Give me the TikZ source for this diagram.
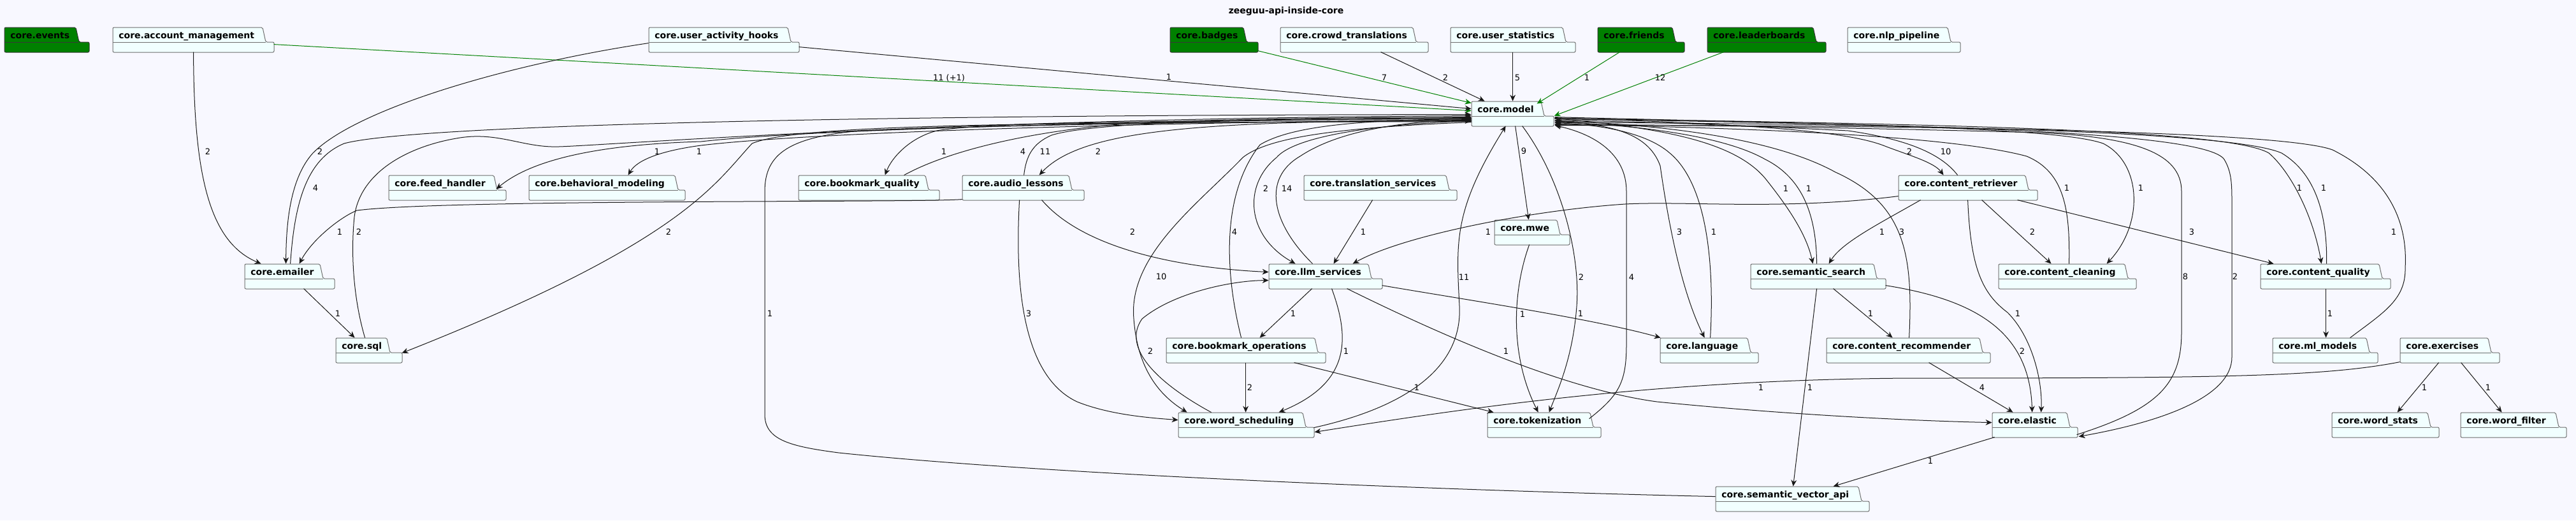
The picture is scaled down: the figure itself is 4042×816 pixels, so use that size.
\documentclass[tikz,border=0pt]{standalone}
\usepackage{fontspec}
\setmainfont{DejaVu Sans}
\usetikzlibrary{arrows.meta,calc,fit}
\definecolor{bgwhite}{RGB}{248,248,255}
\definecolor{pkgfill}{RGB}{241,255,255}
\definecolor{pkgline}{RGB}{110,110,110}
\definecolor{darkline}{RGB}{24,24,24}
\definecolor{umlgreen}{RGB}{0,128,0}

% package: #1 style, #2 name, #3 text, #4 x, #5 y, #6 tab right, #7 body right
\newcommand{\umlpkg}[7][pkgbox]{%
  \filldraw[#1] (#4,#5+39) -- (#4,#5) -- (#6,#5) -- (#6+5,#5+23)
    -- (#7,#5+23) -- (#7,#5+39) -- cycle;
  \draw[#1,fill=none] (#4,#5+23) -- (#6+5,#5+23);
  \node[pkgtext] (#2-txt) at (#4+9,#5+17) {#3};
  \path (#4,#5) coordinate (#2-nw) (#7,#5+39) coordinate (#2-se);
  \node[fit=(#2-nw)(#2-se),inner sep=0pt] (#2) {};
}

\begin{document}
\begin{tikzpicture}[x=0.5pt,y=-0.5pt,
    pkgbox/.style={fill=pkgfill,draw=pkgline,line width=0.5pt,rounded corners=1pt},
    greenbox/.style={fill=umlgreen,draw=pkgline!50!black,line width=0.5pt,rounded corners=1pt},
    pkgtext/.style={font=\bfseries\fontsize{7}{8}\selectfont,anchor=base west,inner sep=0pt},
    dep/.style={draw=darkline,line width=0.5pt,-{Stealth[length=5pt,width=4.4pt,inset=1.6pt]}},
    greendep/.style={dep,draw=umlgreen},
    lbl/.style={font=\fontsize{6.5}{7}\selectfont,inner sep=0pt}]
  \useasboundingbox (0,0) rectangle (4042,816);
  \fill[bgwhite] (0,0) rectangle (4042,816);
  \node[font=\bfseries\fontsize{7}{8}\selectfont] (title) at (2018,18) {zeeguu-api-inside-core};

  % packages
  \umlpkg[greenbox]{events}{core.events}{7}{43}{119}{140}
  \umlpkg{accmgmt}{core.account\_management}{177}{43}{412}{430}
  \umlpkg{useract}{core.user\_activity\_hooks}{1018}{43}{1236}{1254}
  \umlpkg[greenbox]{badges}{core.badges}{1836}{43}{1951}{1974}
  \umlpkg{crowd}{core.crowd\_translations}{2009}{43}{2217}{2241}
  \umlpkg{ustats}{core.user\_statistics}{2276}{43}{2452}{2472}
  \umlpkg[greenbox]{friends}{core.friends}{2507}{43}{2624}{2643}
  \umlpkg[greenbox]{leader}{core.leaderboards}{2679}{43}{2845}{2865}
  \umlpkg{nlp}{core.nlp\_pipeline}{2899}{43}{3056}{3076}
  \umlpkg{model}{core.model}{2309}{159}{2418}{2438}
  \umlpkg{feed}{core.feed\_handler}{610}{275}{775}{794}
  \umlpkg{behav}{core.behavioral\_modeling}{830}{275}{1059}{1075}
  \umlpkg{bmq}{core.bookmark\_quality}{1253}{275}{1452}{1474}
  \umlpkg{audio}{core.audio\_lessons}{1510}{275}{1677}{1701}
  \umlpkg{transl}{core.translation\_services}{2046}{275}{2269}{2286}
  \umlpkg{retr}{core.content\_retriever}{2979}{275}{3178}{3197}
  \umlpkg{mwe}{core.mwe}{2345}{345}{2443}{2463}
  \umlpkg{emailer}{core.emailer}{384}{414}{502}{525}
  \umlpkg{llm}{core.llm\_services}{1991}{414}{2147}{2169}
  \umlpkg{ssearch}{core.semantic\_search}{2747}{414}{2940}{2959}
  \umlpkg{clean}{core.content\_cleaning}{3136}{414}{3334}{3352}
  \umlpkg{cquality}{core.content\_quality}{3547}{414}{3733}{3751}
  \umlpkg{sql}{core.sql}{527}{530}{607}{631}
  \umlpkg{bmops}{core.bookmark\_operations}{1830}{530}{2063}{2080}
  \umlpkg{lang}{core.language}{2605}{530}{2742}{2759}
  \umlpkg{recomm}{core.content\_recommender}{2866}{530}{3106}{3123}
  \umlpkg{ml}{core.ml\_models}{3566}{530}{3713}{3731}
  \umlpkg{exercises}{core.exercises}{3766}{530}{3904}{3922}
  \umlpkg{wsched}{core.word\_scheduling}{1849}{647}{2044}{2062}
  \umlpkg{token}{core.tokenization}{2334}{647}{2495}{2512}
  \umlpkg{elastic}{core.elastic}{3126}{647}{3243}{3260}
  \umlpkg{wstats}{core.word\_stats}{3659}{647}{3809}{3827}
  \umlpkg{wfilter}{core.word\_filter}{3861}{647}{4010}{4027}
  \umlpkg{vector}{core.semantic\_vector\_api}{2692}{763}{2916}{2933}

  % top row into core.model
  \draw[greendep] ($(accmgmt.north west)+(253,27)$) -- ($(model.north west)+(0,15)$) node[lbl] (l1) at (1489,122) {11 (+1)};
  \draw[dep] ($(useract.north west)+(236,31)$) -- ($(model.north west)+(0,12)$) node[lbl] (l2) at (1834,121) {1};
  \draw[greendep] ($(badges.north west)+(138,37)$) -- ($(model.north west)+(0,3)$) node[lbl] (l3) at (2172,122) {7};
  \draw[dep] ($(crowd.north west)+(158,39)$) -- ($(model.north west)+(21,0)$) node[lbl] (l4) at (2268,122) {2};
  \draw[dep] ($(ustats.north west)+(98,39)$) -- ($(model.north west)+(65,0)$) node[lbl] (l5) at (2381,122) {5};
  \draw[greendep] ($(friends.north west)+(35,39)$) -- ($(model.north west)+(103,4)$) node[lbl] (l6) at (2490,122) {1};
  \draw[greendep] ($(leader.north west)+(26,39)$) -- ($(model.north west)+(130,23)$) node[lbl] (l7) at (2605,122) {12};

  % left bundle
  \draw[dep] ($(model.north west)+(0,27)$) .. controls (1700,190) and (1250,205) .. (1100,222)
    .. controls (960,226) and (840,245) .. ($(feed.north west)+(169,22)$) node[lbl] (l8) at (1031,238) {1};
  \draw[dep] ($(model.north west)+(0,29)$) .. controls (1700,193) and (1250,210) .. (1100,228)
    .. controls (1040,236) and (1000,250) .. ($(behav.north west)+(156,0)$) node[lbl] (l9) at (1097,238) {1};
  \draw[dep] ($(emailer.north west)+(72,0)$) .. controls (462,320) and (480,250) .. (540,225)
    .. controls (650,195) and (1400,180) .. ($(model.north west)+(0,21)$) node[lbl] (l10) at (495,295) {4};
  \draw[dep] ($(useract.north west)+(0,25)$) .. controls (800,100) and (560,170) .. (491,240)
    .. controls (455,280) and (449,350) .. ($(emailer.north west)+(65,0)$) node[lbl] (l11) at (502,238) {2};
  \draw[dep] ($(accmgmt.north west)+(127,39)$) .. controls (304,280) and (330,380) .. ($(emailer.north west)+(26,0)$) node[lbl] (l12) at (326,238) {2};
  \draw[dep] ($(audio.north west)+(0,38)$) .. controls (1450,318) and (700,312) .. (560,330)
    .. controls (535,340) and (490,375) .. ($(emailer.north west)+(86,0)$) node[lbl] (l13) at (533,364) {1};
  \draw[dep] ($(sql.north west)+(46,0)$) .. controls (555,470) and (550,400) .. (556,340)
    .. controls (565,270) and (640,230) .. (716,217) .. controls (780,205) and (820,232) .. (877,230)
    .. controls (950,228) and (1500,185) .. ($(model.north west)+(0,23)$) node[lbl] (l14) at (563,364) {2};
  \draw[dep] ($(emailer.north west)+(93,39)$) -- ($(sql.north west)+(30,0)$) node[lbl] (l15) at (530,492) {1};
  \draw[dep] ($(model.north west)+(0,32)$) .. controls (1600,192) and (1250,195) .. (1180,225)
    .. controls (1120,290) and (1070,380) .. ($(sql.north west)+(104,24)$) node[lbl] (l16) at (1049,364) {2};
  \draw[dep] ($(model.north west)+(0,27)$) .. controls (1900,190) and (1550,190) .. (1470,205)
    .. controls (1430,215) and (1400,245) .. ($(bmq.north west)+(136,0)$) node[lbl] (l17) at (1481,238) {1};
  \draw[dep] ($(bmq.north west)+(166,0)$) .. controls (1500,230) and (1650,200) .. (1800,192)
    .. controls (1950,186) and (2150,184) .. ($(model.north west)+(0,25)$) node[lbl] (l18) at (1605,238) {4};
  \draw[dep] ($(audio.north west)+(97,0)$) .. controls (1610,245) and (1620,225) .. (1650,212)
    .. controls (1720,190) and (2000,186) .. ($(model.north west)+(0,26)$) node[lbl] (l19) at (1640,238) {11};
  \draw[dep] ($(model.north west)+(0,30)$) .. controls (1900,190) and (1700,200) .. ($(audio.north west)+(121,0)$) node[lbl] (l20) at (1723,238) {2};

  % around core.llm_services
  \draw[dep] ($(audio.north west)+(125,39)$) .. controls (1700,390) and (1850,420) .. ($(llm.north west)+(0,13)$) node[lbl] (l21) at (1777,364) {2};
  \draw[dep] ($(audio.north west)+(90,39)$) .. controls (1592,450) and (1605,590) .. (1690,630)
    .. controls (1740,650) and (1800,655) .. ($(wsched.north west)+(0,12)$) node[lbl] (l22) at (1614,492) {3};
  \draw[dep] ($(model.north west)+(0,33)$) .. controls (2100,200) and (1990,215) .. (1950,247)
    .. controls (1880,320) and (1770,400) .. (1779,500)
    .. controls (1785,580) and (1820,620) .. ($(wsched.north west)+(14,0)$) node[lbl] (l23) at (1822,434) {10};
  \draw[dep] ($(bmops.north west)+(118,0)$) .. controls (1925,440) and (1912,310) .. (1977,227)
    .. controls (2030,195) and (2150,188) .. ($(model.north west)+(0,28)$) node[lbl] (l24) at (1937,364) {4};
  \draw[dep] ($(model.north west)+(0,31)$) .. controls (2150,195) and (2030,215) .. (2003,247)
    .. controls (1950,290) and (1955,370) .. ($(llm.north west)+(42,0)$) node[lbl] (l25) at (1986,296) {2};
  \draw[dep] ($(llm.north west)+(69,0)$) .. controls (1995,350) and (1980,280) .. (2040,245)
    .. controls (2100,205) and (2200,190) .. ($(model.north west)+(0,29)$) node[lbl] (l26) at (2019,296) {14};
  \draw[dep] ($(transl.north west)+(108,39)$) -- ($(llm.north west)+(102,0)$) node[lbl] (l27) at (2139,364) {1};
  \draw[dep] ($(retr.north west)+(0,33)$) .. controls (2800,330) and (2650,315) .. (2550,320)
    .. controls (2400,330) and (2200,370) .. ($(llm.north west)+(132,0)$) node[lbl] (l28) at (2335,364) {1};
  \draw[dep] ($(wsched.north west)+(52,0)$) .. controls (1815,600) and (1760,545) .. (1792,500)
    .. controls (1840,460) and (1930,440) .. ($(llm.north west)+(0,26)$) node[lbl] (l29) at (1805,551) {2};
  \draw[dep] ($(llm.north west)+(68,39)$) -- ($(bmops.north west)+(147,0)$) node[lbl] (l30) at (2029,492) {1};
  \draw[dep] ($(llm.north west)+(99,39)$) .. controls (2118,530) and (2120,600) .. ($(wsched.north west)+(158,0)$) node[lbl] (l31) at (2112,551) {1};
  \draw[dep] ($(llm.north west)+(178,34)$) .. controls (2300,470) and (2500,500) .. ($(lang.north west)+(1,0)$) node[lbl] (l32) at (2480,492) {1};
  \draw[dep] ($(llm.north west)+(123,39)$) .. controls (2250,520) and (2450,610) .. (2600,630)
    .. controls (2800,650) and (3000,660) .. ($(elastic.north west)+(0,16)$) node[lbl] (l33) at (2363,551) {1};
  \draw[dep] ($(bmops.north west)+(125,39)$) -- ($(wsched.north west)+(106,0)$) node[lbl] (l34) at (1961,608) {2};
  \draw[dep] ($(bmops.north west)+(201,39)$) -- ($(token.north west)+(10,0)$) node[lbl] (l35) at (2223,608) {1};
  \draw[dep] ($(wsched.north west)+(213,24)$) .. controls (2200,640) and (2295,580) .. (2290,480)
    .. controls (2285,380) and (2280,330) .. ($(model.north west)+(54,39)$) node[lbl] (l36) at (2297,435) {11};
  \draw[dep] ($(exercises.north west)+(0,38)$) .. controls (3650,590) and (3500,593) .. (3000,593)
    .. controls (2600,595) and (2300,640) .. ($(wsched.north west)+(214,31)$) node[lbl] (l37) at (2763,608) {1};

  % below core.model
  \draw[dep] ($(model.north west)+(69,39)$) -- ($(mwe.north west)+(54,0)$) node[lbl] (l38) at (2391,237) {9};
  \draw[dep] ($(mwe.north west)+(55,39)$) .. controls (2372,460) and (2370,560) .. ($(token.north west)+(80,0)$) node[lbl] (l39) at (2389,493) {1};
  \draw[dep] ($(model.north west)+(80,39)$) .. controls (2450,280) and (2480,400) .. (2474,480)
    .. controls (2468,560) and (2445,610) .. ($(token.north west)+(97,0)$) node[lbl] (l40) at (2481,435) {2};
  \draw[dep] ($(token.north west)+(160,10)$) .. controls (2540,620) and (2552,600) .. (2552,540) -- (2552,300)
    .. controls (2552,240) and (2500,210) .. ($(model.north west)+(131,38)$) node[lbl] (l41) at (2560,435) {4};

  % right bundle
  \draw[dep] ($(model.north west)+(131,31)$) .. controls (2520,195) and (2585,205) .. (2605,260)
    .. controls (2615,330) and (2635,450) .. ($(lang.north west)+(70,0)$) node[lbl] (l42) at (2635,364) {3};
  \draw[dep] ($(lang.north west)+(79,0)$) .. controls (2690,420) and (2680,290) .. (2620,240)
    .. controls (2580,205) and (2500,195) .. ($(model.north west)+(131,34)$) node[lbl] (l43) at (2689,364) {1};
  \draw[dep] ($(model.north west)+(131,27)$) .. controls (2600,200) and (2720,220) .. (2770,280)
    .. controls (2810,330) and (2835,370) .. ($(ssearch.north west)+(98,0)$) node[lbl] (l44) at (2802,296) {1};
  \draw[dep] ($(ssearch.north west)+(104,0)$) .. controls (2850,340) and (2830,280) .. (2770,250)
    .. controls (2700,210) and (2550,195) .. ($(model.north west)+(131,33)$) node[lbl] (l45) at (2838,296) {1};
  \draw[dep] ($(recomm.north west)+(130,0)$) .. controls (3002,400) and (2990,320) .. (2880,270)
    .. controls (2780,215) and (2600,195) .. ($(model.north west)+(131,31)$) node[lbl] (l46) at (2984,364) {3};
  \draw[dep] ($(model.north west)+(131,26)$) .. controls (2750,195) and (2900,205) .. (2960,230)
    .. controls (3000,245) and (3035,255) .. ($(retr.north west)+(71,0)$) node[lbl] (l47) at (2996,238) {2};
  \draw[dep] ($(retr.north west)+(93,0)$) .. controls (3045,240) and (2990,218) .. (2900,205)
    .. controls (2700,195) and (2550,190) .. ($(model.north west)+(131,30)$) node[lbl] (l48) at (3053,238) {10};
  \draw[dep] ($(retr.north west)+(35,39)$) .. controls (2950,350) and (2890,380) .. ($(ssearch.north west)+(123,0)$) node[lbl] (l49) at (2953,364) {1};
  \draw[dep] ($(retr.north west)+(131,39)$) -- ($(clean.north west)+(83,0)$) node[lbl] (l50) at (3189,364) {2};
  \draw[dep] ($(retr.north west)+(187,39)$) -- ($(cquality.north west)+(21,0)$) node[lbl] (l51) at (3439,364) {3};
  \draw[dep] ($(retr.north west)+(109,39)$) .. controls (3092,420) and (3110,460) .. (3150,490)
    .. controls (3190,530) and (3205,600) .. ($(elastic.north west)+(77,0)$) node[lbl] (l52) at (3166,492) {1};
  \draw[dep] ($(model.north west)+(131,25)$) .. controls (2900,195) and (3230,200) .. (3300,225)
    .. controls (3360,255) and (3365,350) .. ($(clean.north west)+(170,0)$) node[lbl] (l53) at (3359,295) {1};
  \draw[dep] ($(clean.north west)+(111,0)$) .. controls (3248,330) and (3240,270) .. (3180,245)
    .. controls (3050,210) and (2700,200) .. ($(model.north west)+(131,36)$) node[lbl] (l54) at (3243,295) {1};
  \draw[dep] ($(elastic.north west)+(133,35)$) .. controls (3390,640) and (3423,600) .. (3423,520) -- (3423,300)
    .. controls (3423,240) and (3350,215) .. (3200,208)
    .. controls (2900,200) and (2600,195) .. ($(model.north west)+(131,37)$) node[lbl] (l55) at (3429,434) {8};
  \draw[dep] ($(model.north west)+(131,28)$) .. controls (3000,195) and (3460,205) .. (3490,250)
    .. controls (3502,270) and (3502,290) .. (3502,320) -- (3502,560)
    .. controls (3502,620) and (3400,660) .. ($(elastic.north west)+(136,38)$) node[lbl] (l56) at (3507,434) {2};
  \draw[dep] ($(model.north west)+(131,27)$) .. controls (3100,195) and (3500,205) .. (3560,240)
    .. controls (3595,270) and (3630,340) .. ($(cquality.north west)+(96,0)$) node[lbl] (l57) at (3608,295) {1};
  \draw[dep] ($(cquality.north west)+(104,0)$) .. controls (3652,330) and (3630,270) .. (3580,240)
    .. controls (3500,205) and (3000,195) .. ($(model.north west)+(131,33)$) node[lbl] (l58) at (3646,295) {1};
  \draw[dep] ($(ml.north west)+(122,0)$) .. controls (3740,490) and (3775,470) .. (3774,420)
    .. controls (3778,350) and (3750,280) .. (3660,235)
    .. controls (3580,205) and (3000,196) .. ($(model.north west)+(131,38)$) node[lbl] (l59) at (3756,364) {1};
  \draw[dep] ($(cquality.north west)+(103,39)$) -- ($(ml.north west)+(84,0)$) node[lbl] (l60) at (3656,492) {1};

  % lower right
  \draw[dep] ($(exercises.north west)+(61,39)$) -- ($(wstats.north west)+(103,0)$) node[lbl] (l61) at (3804,608) {1};
  \draw[dep] ($(exercises.north west)+(96,39)$) -- ($(wfilter.north west)+(65,0)$) node[lbl] (l62) at (3904,608) {1};
  \draw[dep] ($(recomm.north west)+(161,39)$) -- ($(elastic.north west)+(33,0)$) node[lbl] (l63) at (3110,608) {4};
  \draw[dep] ($(ssearch.north west)+(212,34)$) .. controls (3100,470) and (3185,520) .. ($(elastic.north west)+(63,0)$) node[lbl] (l64) at (3173,551) {2};
  \draw[dep] ($(ssearch.north west)+(130,39)$) -- ($(recomm.north west)+(104,0)$) node[lbl] (l65) at (2935,492) {1};
  \draw[dep] ($(ssearch.north west)+(104,39)$) -- ($(vector.north west)+(122,0)$) node[lbl] (l66) at (2840,608) {1};
  \draw[dep] ($(elastic.north west)+(4,39)$) -- ($(vector.north west)+(185,0)$) node[lbl] (l67) at (3029,723) {1};
  \draw[dep] ($(vector.north west)+(0,16)$) .. controls (2300,770) and (1650,745) .. (1316,710)
    .. controls (1240,700) and (1200,690) .. (1200,650) -- (1200,300)
    .. controls (1200,240) and (1240,215) .. (1350,205)
    .. controls (1700,192) and (2000,191) .. ($(model.north west)+(0,31)$) node[lbl] (l68) at (1208,492) {1};
\end{tikzpicture}
\end{document}
